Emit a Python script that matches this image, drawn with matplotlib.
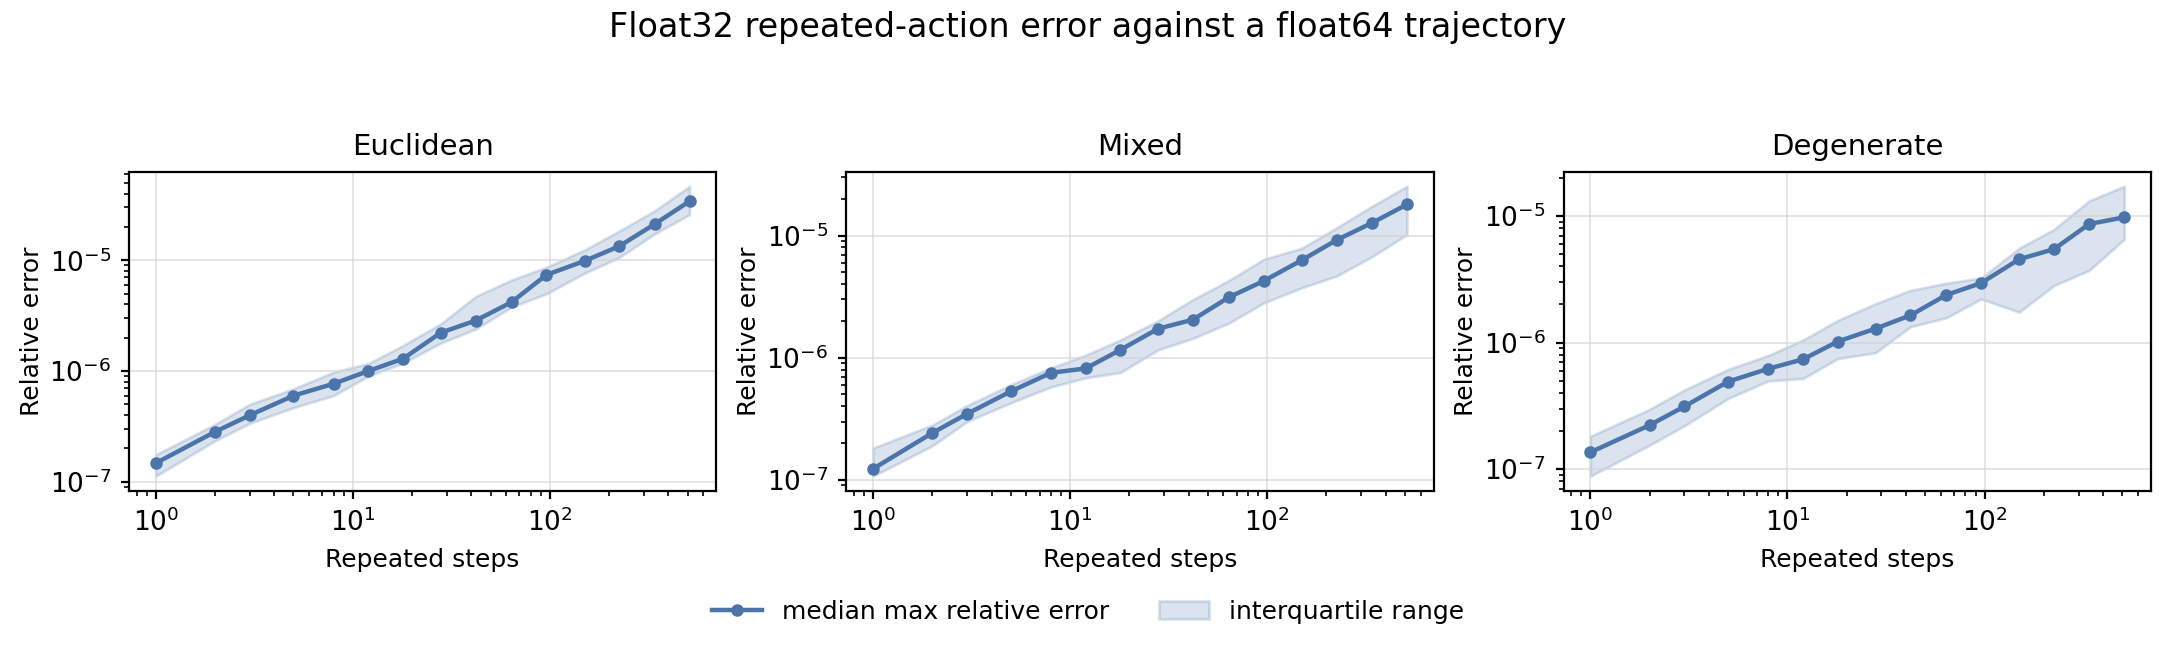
import matplotlib
matplotlib.use("Agg")
import matplotlib.pyplot as plt
import numpy as np

steps = [1, 2, 3, 5, 8, 12, 18, 28, 42, 64, 96, 150, 225, 340, 512]

panels = ["Euclidean", "Mixed", "Degenerate"]

euclid_med = [1.47e-7, 2.82e-7, 3.98e-7, 5.98e-7, 7.67e-7, 1.0e-6, 1.29e-6, 2.22e-6,
              2.85e-6, 4.19e-6, 7.38e-6, 9.86e-6, 1.34e-5, 2.12e-5, 3.42e-5]
euclid_hi = [1.75e-7, 3.3e-7, 5.0e-7, 6.9e-7, 9.77e-7, 1.17e-6, 1.7e-6, 2.67e-6,
             4.71e-6, 6.65e-6, 8.65e-6, 1.24e-5, 1.84e-5, 2.8e-5, 4.67e-5]
euclid_lo = [1.12e-7, 2.34e-7, 3.37e-7, 4.66e-7, 6.0e-7, 8.99e-7, 1.18e-6, 1.79e-6,
             2.39e-6, 3.78e-6, 4.98e-6, 7.64e-6, 1.06e-5, 1.73e-5, 2.59e-5]

mixed_med = [1.23e-7, 2.42e-7, 3.47e-7, 5.3e-7, 7.52e-7, 8.17e-7, 1.16e-6, 1.73e-6,
             2.05e-6, 3.13e-6, 4.25e-6, 6.3e-6, 9.2e-6, 1.27e-5, 1.80e-5]
mixed_hi = [1.82e-7, 2.81e-7, 4.06e-7, 6.0e-7, 8.26e-7, 1.05e-6, 1.4e-6, 2.01e-6,
            3.0e-6, 4.3e-6, 6.41e-6, 7.9e-6, 1.16e-5, 1.74e-5, 2.54e-5]
mixed_lo = [1.07e-7, 1.9e-7, 3.0e-7, 4.27e-7, 5.76e-7, 6.84e-7, 7.57e-7, 1.16e-6,
            1.44e-6, 1.92e-6, 2.81e-6, 3.74e-6, 4.67e-6, 6.7e-6, 1.02e-5]

degen_med = [1.36e-7, 2.23e-7, 3.13e-7, 4.92e-7, 6.22e-7, 7.38e-7, 1.02e-6, 1.29e-6,
             1.64e-6, 2.38e-6, 2.95e-6, 4.56e-6, 5.47e-6, 8.65e-6, 9.77e-6]
degen_hi = [1.82e-7, 2.98e-7, 4.23e-7, 6.15e-7, 7.93e-7, 1.05e-6, 1.5e-6, 2.03e-6,
            2.59e-6, 2.95e-6, 3.24e-6, 5.57e-6, 7.85e-6, 1.32e-5, 1.72e-5]
degen_lo = [8.8e-8, 1.55e-7, 2.2e-7, 3.62e-7, 4.98e-7, 5.2e-7, 7.47e-7, 8.32e-7,
            1.33e-6, 1.57e-6, 2.21e-6, 1.74e-6, 2.82e-6, 3.72e-6, 6.55e-6]

medians = [euclid_med, mixed_med, degen_med]
uppers = [euclid_hi, mixed_hi, degen_hi]
lowers = [euclid_lo, mixed_lo, degen_lo]

color = "#4a74aa"

fig, axes = plt.subplots(1, 3, figsize=(10.88, 3.23), dpi=200)
fig.subplots_adjust(left=0.0593, right=0.9885, top=0.7342, bottom=0.2404, wspace=0.2215)

for ax, name, med, hi, lo in zip(axes, panels, medians, uppers, lowers):
    band = ax.fill_between(steps, lo, hi, color=color, alpha=0.2, linewidth=1,
                           label="interquartile range")
    line, = ax.plot(steps, med, color=color, marker="o", markersize=3.5,
                    linewidth=1.6, label="median max relative error")
    ax.set_xscale("log")
    ax.set_yscale("log")
    ax.set_title(name, fontsize=10.5)
    ax.set_xlabel("Repeated steps", fontsize=9)
    ax.set_ylabel("Relative error", fontsize=9, labelpad=2)
    ax.tick_params(labelsize=9.5)
    ax.tick_params(which="major", length=3)
    ax.tick_params(which="minor", length=1.8)
    ax.grid(True, which="major", color="#D3D3D3", alpha=0.6, linewidth=0.7)

fig.suptitle("Float32 repeated-action error against a float64 trajectory", fontsize=12,
             y=0.958, va="center")
fig.legend([line, band], ["median max relative error", "interquartile range"],
           loc="center", bbox_to_anchor=(0.5, 0.053), ncol=2, frameon=False, fontsize=9)

fig.savefig("out.png", dpi=200)
